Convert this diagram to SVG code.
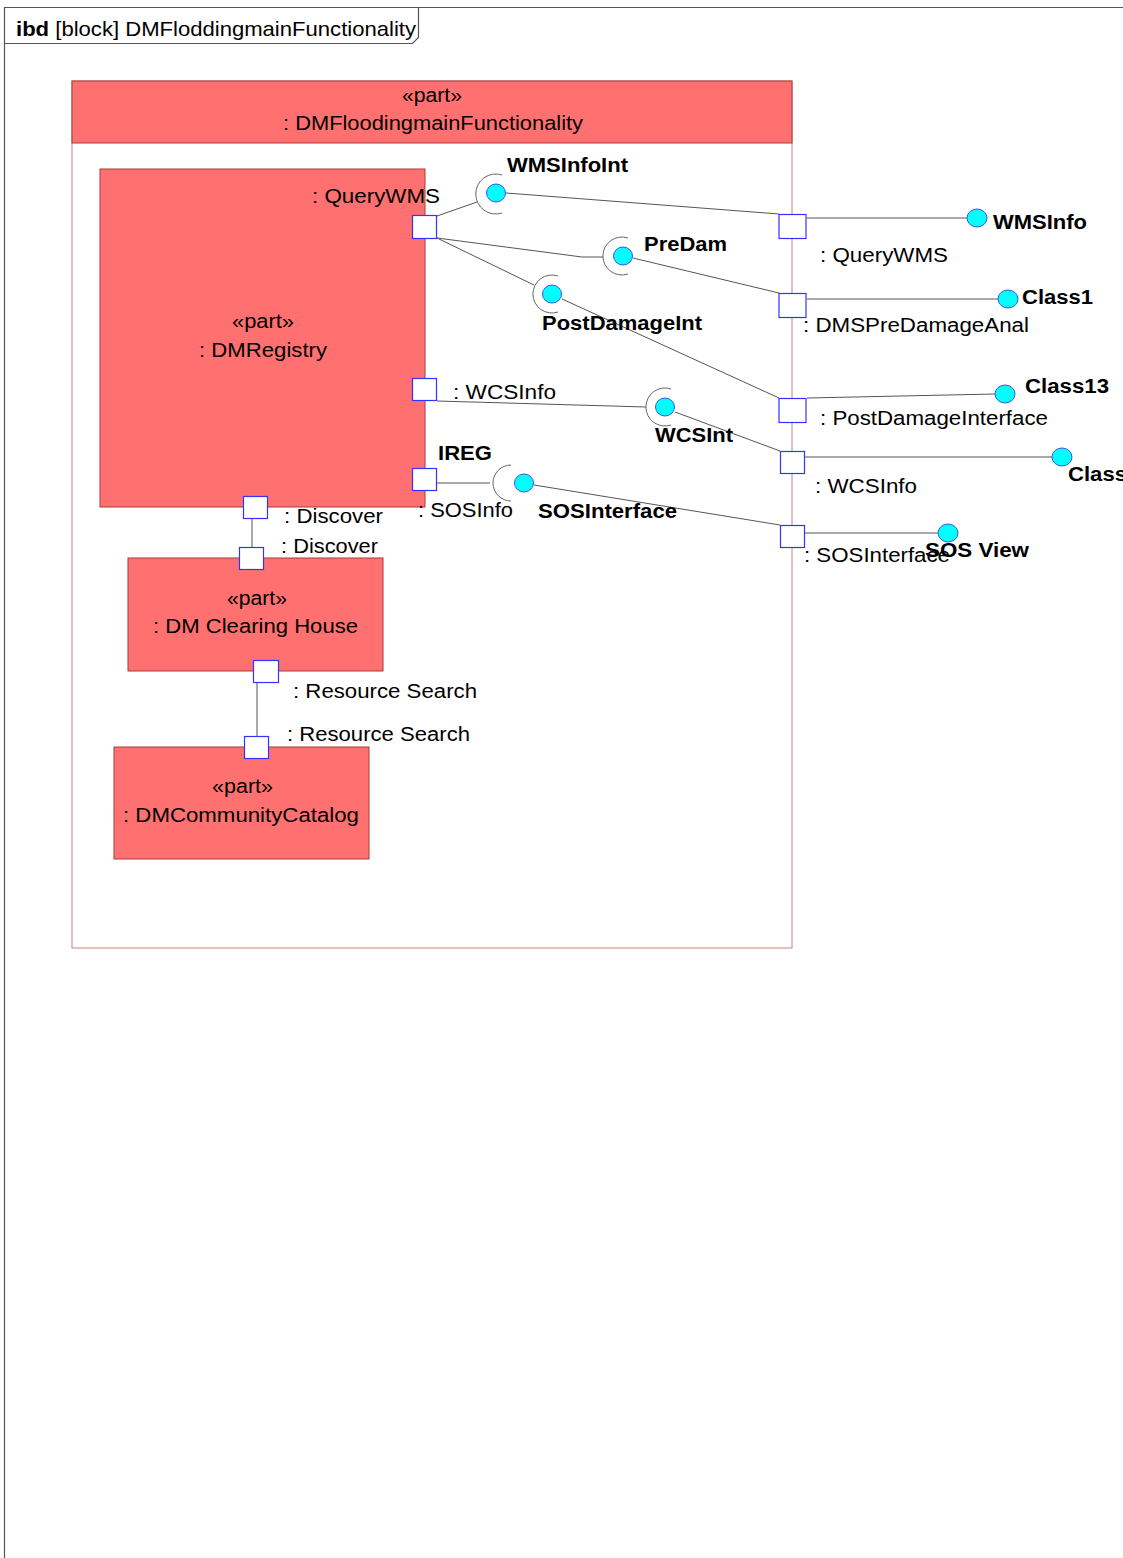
<svg xmlns="http://www.w3.org/2000/svg" width="1123" height="1558" viewBox="0 0 1123 1558">
<style>
text{font-family:"Liberation Sans",Arial,sans-serif;fill:#000}
.t{font-size:20px}
.b{font-size:20px;font-weight:bold}
.part{fill:#FF7070;stroke:#A83A3A;stroke-width:1}
.body{fill:#FFFFFF;stroke:#CC8080;stroke-width:1}
.port{fill:#FFFFFF;stroke:#3333FF;stroke-width:1.2}
.ball{fill:#00FFFF;stroke:#3355EE;stroke-width:1}
.sock{fill:none;stroke:#666;stroke-width:1}
.c{stroke:#555;stroke-width:1;fill:none}
.frame{stroke:#555;stroke-width:1.2;fill:none}
</style>
<rect x="0" y="0" width="1123" height="1558" fill="#FFFFFF"/>
<g id="frame">
<path class="frame" d="M4.5,1558 V7.5 H1123"/>
<path class="frame" d="M4.5,43.5 H412.5 L418.5,37.5 V7.5"/>
<text x="16" y="36" style="font-size:21px" textLength="400" lengthAdjust="spacingAndGlyphs"><tspan font-weight="bold">ibd</tspan> [block] DMFloddingmainFunctionality</text>
</g>
<g id="DMFloodingmainFunctionality">
<rect class="body" x="72" y="81" width="720" height="867"/>
<rect class="part" x="72" y="81" width="720" height="62"/>
<text class="t" x="432" y="102" text-anchor="middle" textLength="60" lengthAdjust="spacingAndGlyphs">«part»</text>
<text class="t" x="283" y="130" textLength="300" lengthAdjust="spacingAndGlyphs">: DMFloodingmainFunctionality</text>
</g>
<g id="DMRegistry">
<rect class="part" x="100" y="169" width="325" height="338"/>
<text class="t" x="232" y="328" textLength="62" lengthAdjust="spacingAndGlyphs">«part»</text>
<text class="t" x="199" y="357" textLength="128" lengthAdjust="spacingAndGlyphs">: DMRegistry</text>
</g>
<g id="DMClearingHouse">
<rect class="part" x="128" y="558" width="255" height="113"/>
<text class="t" x="227" y="605" textLength="60" lengthAdjust="spacingAndGlyphs">«part»</text>
<text class="t" x="153" y="633" textLength="205" lengthAdjust="spacingAndGlyphs">: DM Clearing House</text>
</g>
<g id="DMCommunityCatalog">
<rect class="part" x="114" y="747" width="255" height="112"/>
<text class="t" x="212" y="793" textLength="61" lengthAdjust="spacingAndGlyphs">«part»</text>
<text class="t" x="123" y="822" textLength="236" lengthAdjust="spacingAndGlyphs">: DMCommunityCatalog</text>
</g>
<g id="connectors">
<line class="c" x1="437" y1="216" x2="477" y2="202"/>
<line class="c" x1="506" y1="193" x2="779" y2="214"/>
<polyline class="c" points="437,238 582,257 603,257"/>
<line class="c" x1="633" y1="258" x2="779" y2="293"/>
<line class="c" x1="437" y1="238" x2="534" y2="285"/>
<line class="c" x1="562" y1="299" x2="779" y2="398"/>
<line class="c" x1="437" y1="401" x2="646" y2="407"/>
<line class="c" x1="675" y1="412" x2="780" y2="451"/>
<line class="c" x1="437" y1="483" x2="490" y2="483"/>
<line class="c" x1="534" y1="485" x2="780" y2="525"/>
<line class="c" x1="807" y1="218" x2="967" y2="218"/>
<line class="c" x1="807" y1="299" x2="998" y2="299"/>
<line class="c" x1="807" y1="398" x2="995" y2="394"/>
<line class="c" x1="805" y1="457" x2="1052" y2="457"/>
<line class="c" x1="805" y1="533" x2="938" y2="533"/>
<line class="c" x1="252" y1="519" x2="252" y2="547"/>
<line class="c" x1="257" y1="682" x2="257" y2="736"/>
</g>
<g id="ports">
<g id="port-QueryWMS-in"><rect class="port" x="412.5" y="215.5" width="24" height="23"/><text class="t" x="312" y="203" textLength="128" lengthAdjust="spacingAndGlyphs">: QueryWMS</text></g>
<g id="port-WCSInfo-in"><rect class="port" x="412.5" y="378.5" width="24" height="22"/><text class="t" x="453" y="399" textLength="103" lengthAdjust="spacingAndGlyphs">: WCSInfo</text></g>
<g id="port-SOSInfo"><rect class="port" x="412.5" y="468.5" width="24" height="22"/><text class="b" x="438" y="460" textLength="54" lengthAdjust="spacingAndGlyphs">IREG</text><text class="t" x="418" y="517" textLength="95" lengthAdjust="spacingAndGlyphs">: SOSInfo</text></g>
<g id="port-Discover-reg"><rect class="port" x="243.5" y="496.5" width="24" height="22"/><text class="t" x="284" y="523" textLength="99" lengthAdjust="spacingAndGlyphs">: Discover</text></g>
<g id="port-Discover-ch"><rect class="port" x="239.5" y="547.5" width="24" height="22"/><text class="t" x="281" y="553" textLength="97" lengthAdjust="spacingAndGlyphs">: Discover</text></g>
<g id="port-Resource-ch"><rect class="port" x="253.5" y="660.5" width="25" height="22"/><text class="t" x="293" y="698" textLength="184" lengthAdjust="spacingAndGlyphs">: Resource Search</text></g>
<g id="port-Resource-cat"><rect class="port" x="244.5" y="736.5" width="24" height="22"/><text class="t" x="287" y="741" textLength="183" lengthAdjust="spacingAndGlyphs">: Resource Search</text></g>
<g id="port-QueryWMS-out"><rect class="port" x="779" y="214.5" width="27" height="24"/><text class="t" x="820" y="262" textLength="128" lengthAdjust="spacingAndGlyphs">: QueryWMS</text></g>
<g id="port-DMSPreDamageAnal"><rect class="port" x="779" y="293.5" width="27" height="24"/><text class="t" x="803" y="332" textLength="226" lengthAdjust="spacingAndGlyphs">: DMSPreDamageAnal</text></g>
<g id="port-PostDamageInterface"><rect class="port" x="779" y="398.5" width="27" height="24"/><text class="t" x="820" y="425" textLength="228" lengthAdjust="spacingAndGlyphs">: PostDamageInterface</text></g>
<g id="port-WCSInfo-out"><rect class="port" x="780.5" y="451.5" width="24" height="22"/><text class="t" x="815" y="493" textLength="102" lengthAdjust="spacingAndGlyphs">: WCSInfo</text></g>
<g id="port-SOSInterface-out"><rect class="port" x="780.5" y="525.5" width="24" height="22"/><text class="t" x="804" y="562" textLength="146" lengthAdjust="spacingAndGlyphs">: SOSInterface</text></g>
</g>
<g id="WMSInfoInt"><path class="sock" d="M502,175 A20,20 0 1,0 502,213"/><ellipse class="ball" cx="496" cy="193" rx="9.5" ry="9"/><text class="b" x="507" y="172" textLength="121" lengthAdjust="spacingAndGlyphs">WMSInfoInt</text></g>
<g id="PreDam"><path class="sock" d="M628,238 A19,19 0 1,0 628,274"/><ellipse class="ball" cx="623" cy="256" rx="9.5" ry="9"/><text class="b" x="644" y="251" textLength="83" lengthAdjust="spacingAndGlyphs">PreDam</text></g>
<g id="PostDamageInt"><path class="sock" d="M558,276 A19,19 0 1,0 558,312"/><ellipse class="ball" cx="552" cy="294" rx="9.5" ry="9"/><text class="b" x="542" y="330" textLength="160" lengthAdjust="spacingAndGlyphs">PostDamageInt</text></g>
<g id="WCSInt"><path class="sock" d="M671,389 A19,19 0 1,0 671,425"/><ellipse class="ball" cx="665" cy="407" rx="9.5" ry="9"/><text class="b" x="655" y="442" textLength="78" lengthAdjust="spacingAndGlyphs">WCSInt</text></g>
<g id="SOSInterface"><path class="sock" d="M511,465 A18,18 0 1,0 511,501"/><ellipse class="ball" cx="524" cy="483" rx="9.5" ry="9"/><text class="b" x="538" y="518" textLength="139" lengthAdjust="spacingAndGlyphs">SOSInterface</text></g>
<g id="WMSInfo"><ellipse class="ball" cx="977" cy="218" rx="10" ry="9"/><text class="b" x="993" y="229" textLength="94" lengthAdjust="spacingAndGlyphs">WMSInfo</text></g>
<g id="Class1"><ellipse class="ball" cx="1008" cy="299" rx="10" ry="9"/><text class="b" x="1022" y="304" textLength="71" lengthAdjust="spacingAndGlyphs">Class1</text></g>
<g id="Class13"><ellipse class="ball" cx="1005" cy="394" rx="10" ry="9"/><text class="b" x="1025" y="393" textLength="84" lengthAdjust="spacingAndGlyphs">Class13</text></g>
<g id="Class"><ellipse class="ball" cx="1062" cy="457" rx="10" ry="9"/><text class="b" x="1068" y="481" textLength="59" lengthAdjust="spacingAndGlyphs">Class</text></g>
<g id="SOSView"><ellipse class="ball" cx="948" cy="533" rx="10" ry="9"/><text class="b" x="925" y="557" textLength="104" lengthAdjust="spacingAndGlyphs">SOS View</text></g>
</svg>
